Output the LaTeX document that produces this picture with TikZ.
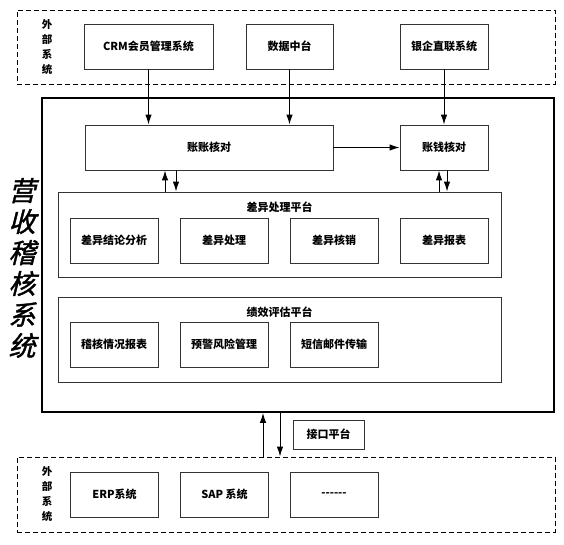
\documentclass[tikz,border=0pt]{standalone}
\usepackage{fontspec}
\setmainfont{Noto Sans CJK SC}
\newfontfamily\bigcjk[FakeSlant=0.25,FakeBold=1.5]{Noto Sans CJK SC}
\usetikzlibrary{arrows.meta}
\begin{document}
\begin{tikzpicture}[x=1pt,y=-1pt,
		box/.style = {draw=black!80, line width=0.9pt, minimum width=88pt, minimum height=45pt, font=\bfseries\fontsize{11}{12}\selectfont, inner sep=0pt},
		platform/.style = {draw=black!80, line width=0.9pt, minimum width=443pt, minimum height=85pt, inner sep=0pt},
		outer/.style = {draw, dashed, line width=0.9pt, dash pattern=on 5pt off 3pt, minimum width=538pt, minimum height=74pt, inner sep=0pt},
		vlabel/.style = {font=\bfseries\fontsize{10.5}{15}\selectfont, align=center},
		title/.style = {font=\bfseries\fontsize{11}{12}\selectfont},
		arr/.style = {-{Latex[length=10pt,width=6.5pt]}, line width=1pt}]
	\useasboundingbox (0,0) rectangle (564,544);
	% outside systems, top
	\node[outer] (top) at (286,47) {};
	\node[vlabel] (toplabel) at (47,47) {外\\部\\系\\统};
	\node[box, minimum width=129pt] (crm) at (148.5,46.5) {CRM会员管理系统};
	\node[box, minimum width=87pt] (data) at (289.5,46.5) {数据中台};
	\node[box] (bank) at (444,46.5) {银企直联系统};
	% main system
	\node[draw, line width=1.8pt, minimum width=512pt, minimum height=314pt, inner sep=0pt] (main) at (298,255) {};
	\node[font=\bigcjk\fontsize{27}{31}\selectfont, align=center] (name) at (22,268) {营\\收\\稽\\核\\系\\统};
	\node[box, minimum width=248pt] (zz) at (209,147.5) {账账核对};
	\node[box] (zq) at (444,147.5) {账钱核对};
	\node[platform] (diff) at (279.5,234.5) {};
	\node[title] (difft) at (279.5,207) {差异处理平台};
	\node[box] (d1) at (114,240.5) {差异结论分析};
	\node[box] (d2) at (224,240.5) {差异处理};
	\node[box] (d3) at (334,240.5) {差异核销};
	\node[box] (d4) at (444,240.5) {差异报表};
	\node[platform] (perf) at (279.5,339.5) {};
	\node[title] (perft) at (279.5,312) {绩效评估平台};
	\node[box] (p1) at (114,344.5) {稽核情况报表};
	\node[box] (p2) at (224,344.5) {预警风险管理};
	\node[box] (p3) at (334,344.5) {短信邮件传输};
	% interface and outside systems, bottom
	\node[box, minimum width=71pt, minimum height=29pt] (iface) at (328.5,434.5) {接口平台};
	\node[outer, minimum height=75pt] (bottom) at (286,494.5) {};
	\node[vlabel] (botlabel) at (47,494.5) {外\\部\\系\\统};
	\node[box] (e1) at (114.5,494.5) {ERP系统};
	\node[box] (e2) at (224.5,494.5) {SAP 系统};
	\node[box] (e3) at (334,494.5) {-{}-{}-{}-{}-{}-};
	% connectors
	\draw[arr] (crm.south) -- (crm.south |- zz.north);
	\draw[arr] (data.south) -- (data.south |- zz.north);
	\draw[arr] (bank.south) -- (zq.north);
	\draw[arr] (zz.east) -- (zq.west);
	\draw[arr] ([xshift=-44pt]zz.south |- diff.north) -- ([xshift=-44pt]zz.south);
	\draw[arr] ([xshift=-33pt]zz.south) -- ([xshift=-33pt]zz.south |- diff.north);
	\draw[arr] ([xshift=-5pt]zq.south |- diff.north) -- ([xshift=-5pt]zq.south);
	\draw[arr] ([xshift=3pt]zq.south) -- ([xshift=3pt]zq.south |- diff.north);
	\draw[arr] ([xshift=-35pt]main.south |- bottom.north) -- ([xshift=-35pt]main.south);
	\draw[arr] ([xshift=-18pt]main.south) -- ([xshift=-18pt]main.south |- bottom.north);
\end{tikzpicture}
\end{document}
